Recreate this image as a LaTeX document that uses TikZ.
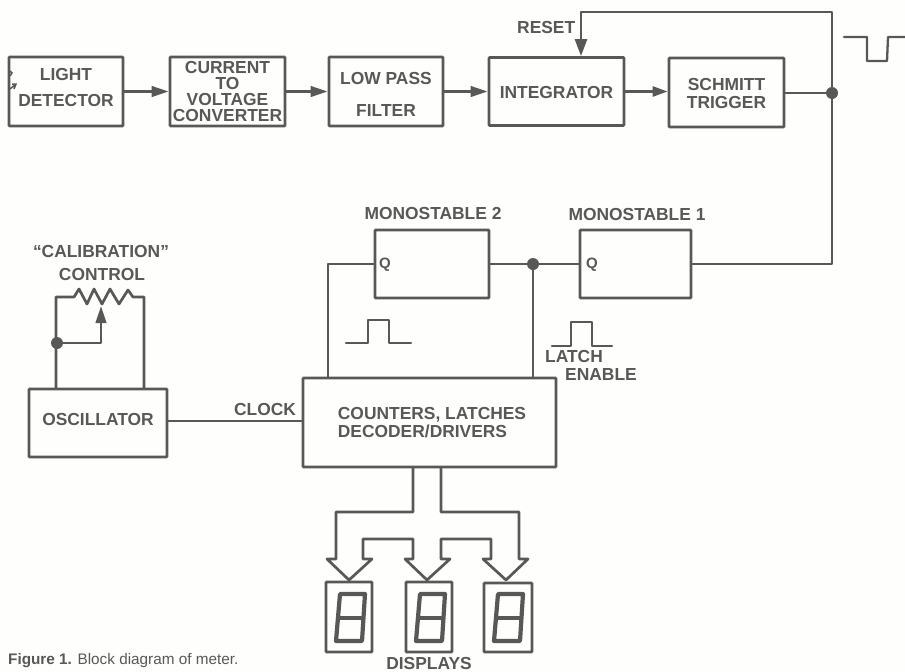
\documentclass[tikz,border=0pt]{standalone}
\usepackage{fontspec}
\setmainfont{Liberation Sans}
\usetikzlibrary{arrows.meta,calc}
\definecolor{ink}{RGB}{88,88,86}
\definecolor{paper}{RGB}{254,254,252}
\tikzset{
  every node/.style={text=ink,font=\fontsize{17.4}{18}\bfseries\selectfont,inner sep=0pt},
  wire/.style={draw=ink,line width=2.7pt,line join=round,line cap=round},
  thin wire/.style={draw=ink,line width=2.3pt,line join=round,line cap=round},
  block/.style={draw=ink,line width=2.8pt,rectangle,rounded corners=0.8pt},
  txt/.style={align=center},
  dotj/.style={circle,fill=ink,minimum size=12pt},
  big/.style={-{Triangle[length=17pt,width=10.5pt]}},
  mid/.style={-{Triangle[length=15pt,width=10pt]}},
  tall/.style={-{Triangle[length=17pt,width=12pt]}},
}
\newcommand{\mkbox}[6]{% name, x1,y1,x2,y2, options
  \node[block,minimum width=#4pt-#2pt,minimum height=#5pt-#3pt,#6] (#1) at ({(#2+#4)/2},{(#3+#5)/2}) {};}
\newcommand{\digit}[2]{% x,y top-left of display box
  \draw[ink,line width=4.2pt,line join=round] (#1+14,#2+12) -- (#1+39,#2+12) -- (#1+36,#2+59) -- (#1+10,#2+59) -- cycle;
  \draw[ink,line width=4pt] (#1+12,#2+35.5) -- (#1+37.5,#2+35.5);}
\begin{document}
\begin{tikzpicture}[x=1pt,y=-1pt]
\useasboundingbox (0,0) rectangle (905,672);
\fill[paper] (0,0) rectangle (905,672);
% top row
\mkbox{light}{9}{57}{123}{126}{label={[txt,font=\fontsize{17.4}{26}\bfseries\selectfont,yshift=3.5pt]center:{LIGHT\\DETECTOR}}}
\mkbox{conv}{170}{57}{285}{126}{label={[txt,font=\fontsize{17.4}{16.3}\bfseries\selectfont]center:{CURRENT\\TO\\VOLTAGE\\CONVERTER}}}
\mkbox{lowpass}{329}{57}{443}{126}{label={[txt,font=\fontsize{17.4}{32}\bfseries\selectfont,yshift=-2.5pt]center:{LOW PASS\\FILTER}}}
\mkbox{integ}{489}{57.5}{624}{125.5}{label={[txt,yshift=-1pt]center:{INTEGRATOR}}}
\mkbox{schmitt}{669}{58}{784}{127}{label={[txt,yshift=-1pt]center:{SCHMITT\\TRIGGER}}}
% monostables
\mkbox{mono2}{375}{230}{489}{298}{}
\mkbox{mono1}{580}{230}{691}{298}{}
\node (q2) at (385,265) {\fontsize{15}{15}\selectfont Q};
\node (q1) at (592,265) {\fontsize{15}{15}\selectfont Q};
\node (m2t) at (433,214) {MONOSTABLE 2};
\node (m1t) at (637,215) {MONOSTABLE 1};
% lower blocks
\mkbox{osc}{29}{389}{167}{457}{label={[txt,yshift=3pt]center:{OSCILLATOR}}}
\mkbox{count}{303}{378}{556}{467}{label={[align=left,xshift=2.5pt]center:{COUNTERS, LATCHES\\DECODER/DRIVERS}}}
% displays
\mkbox{d1}{326}{582}{372}{652}{}
\mkbox{d2}{406}{582}{452}{652}{}
\mkbox{d3}{484}{583}{532}{652}{}
\digit{326}{582}\digit{406}{582}\digit{484}{582}
% junctions and free ends
\node[dotj] (j1) at (832,93) {};
\node[dotj] (j2) at (533,264) {};
\node[dotj] (j3) at (57,343) {};
\coordinate (rt) at (581,12);
\coordinate (fb) at (328,264);
\coordinate (potL) at (56,297);
\coordinate (potR) at (144,297);
\coordinate (wip) at (101,306);
% top connectors
\draw[wire,big] (light.east) -- (conv.west);
\draw[wire,big] (conv.east) -- (lowpass.west);
\draw[wire,big] (lowpass.east) -- (integ.west);
\draw[wire,mid] (integ.east) -- (integ.east -| schmitt.west);
\draw[wire] (schmitt.east |- j1) -- (j1);
\draw[wire,tall] (j1.center) |- (rt) -- (rt |- integ.north);
\draw[wire] (j1.center) |- (mono1.east);
% monostable connectors
\draw[wire] (mono1.west) -- (j2.center);
\draw[wire] (j2.center) -- (mono2.east);
\draw[wire] (j2.center) -- (j2 |- count.north);
\draw[wire] (mono2.west) -- (fb) -- (fb |- count.north);
% oscillator
\draw[wire] (osc.east |- 0,421) -- (count.west |- 0,421);
\draw[wire] (potL |- osc.north) -- (potL) -- (74,297) -- (79,289) -- (87,304) -- (94,289) -- (102,304) -- (110,289) -- (119,304) -- (128,290) -- (133,297) -- (potR) -- (potR |- osc.north);
\draw[wire,big] (j3.center) -| (wip);
% bus to displays
\draw[wire] (413,467 |- count.south) -- (413,512) -- (336,512) -- (336,559) -- (327,559) -- (349,580) -- (372,559) -- (363,559) -- (363,539) -- (413,539) -- (413,559) -- (405,559) -- (427,580) -- (450,559) -- (441,559) -- (441,539) -- (491,539) -- (491,559) -- (483,559) -- (506,580) -- (528,559) -- (519,559) -- (519,512) -- (441,512) -- (441,467 |- count.south);
% waveforms
\draw[thin wire] (844,37) -- (867,37) -- (867,61) -- (887,61) -- (888,37) -- (905,37);
\draw[thin wire] (346,343) -- (368,343) -- (368,320) -- (389,320) -- (389,343) -- (411,343);
\draw[thin wire] (552,346) -- (571,346) -- (571,322) -- (592,322) -- (592,346) -- (612,346);
% detector mark
\draw[ink,line width=1.5pt] (10,71) -- (12,73) -- (10,76);
\draw[ink,line width=1.5pt] (10,89) -- (16,84) (12,84) -- (16,84) -- (14,89);
% labels
\node[anchor=west] (reset) at (517,28) {RESET};
\node (cal) at (101,252) {“CALIBRATION”};
\node (ctl) at (102,275) {CONTROL};
\node (clk) at (265,410) {CLOCK};
\node[anchor=west] (le1) at (545,357) {LATCH};
\node[anchor=west] (le2) at (565,375) {ENABLE};
\node (disp) at (429,664) {DISPLAYS};
\node[anchor=west] (cap) at (8,661) {\fontsize{15.3}{16}\selectfont Figure 1. \mdseries Block diagram of meter.};
\end{tikzpicture}
\end{document}
